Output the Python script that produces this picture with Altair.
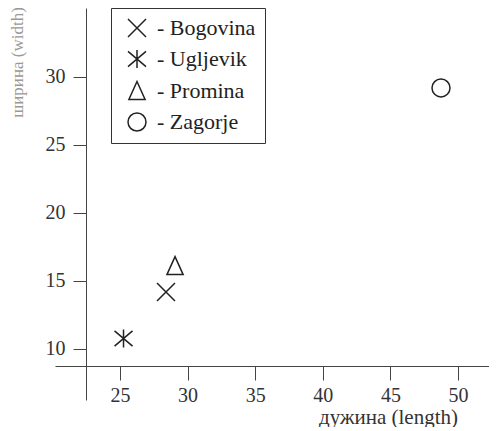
import altair as alt
import pandas as pd

# data
names = ["Bogovina", "Ugljevik", "Promina", "Zagorje"]
lengths = [28.4, 25.26, 29.07, 48.74]
widths = [14.19, 10.77, 16.1, 29.19]

x_ticks = [25, 30, 35, 40, 45, 50]
y_ticks = [10, 15, 20, 25, 30]

df = pd.DataFrame({"name": names, "length": lengths, "width": widths})

shape_x = "M-1,-1L1,1M-1,1L1,-1"
shape_ast = "M0,-1L0,1M-1,-0.85L1,0.85M-1,0.85L1,-0.85"
shape_tri = "M0,-1.05L-0.9,0.95L0.9,0.95Z"
shapes = [shape_x, shape_ast, shape_tri, "circle"]

FONT = "Liberation Serif"

chart = (
    alt.Chart(df)
    .mark_point(filled=False, color="#222", strokeWidth=1.5, size=324, opacity=1)
    .encode(
        x=alt.X(
            "length:Q",
            scale=alt.Scale(domain=[20.192, 52.29], nice=False, zero=False),
            axis=alt.Axis(
                values=x_ticks,
                offset=-34,
                grid=False,
                tickSize=14,
                labelPadding=5,
                title="дужина (length)",
                titleX=333,
                titleY=40,
                titleAlign="center",
                titleBaseline="top",
                titleFont=FONT,
                titleFontSize=21,
                titleFontWeight="normal",
                titleColor="#333",
            ),
        ),
        y=alt.Y(
            "width:Q",
            scale=alt.Scale(domain=[6.25, 35.07], nice=False, zero=False),
            axis=alt.Axis(
                values=y_ticks,
                offset=-31,
                grid=False,
                tickSize=13,
                labelPadding=8,
                title="ширина (width)",
                titleAngle=-90,
                titleX=-69,
                titleY=54,
                titleAlign="center",
                titleBaseline="middle",
                titleFont=FONT,
                titleFontSize=17,
                titleFontWeight="normal",
                titleColor="#999",
            ),
        ),
        shape=alt.Shape(
            "name:N",
            scale=alt.Scale(domain=names, range=shapes),
            legend=alt.Legend(
                title=None,
                orient="none",
                legendX=56,
                legendY=0,
                padding=9,
                strokeColor="#333",
                symbolSize=324,
                symbolStrokeWidth=1.5,
                symbolStrokeColor="#222",
                symbolFillColor="transparent",
                symbolOffset=6,
                labelExpr="'- ' + datum.label",
                labelFont=FONT,
                labelFontSize=22,
                labelColor="#222",
                labelOffset=9,
                rowPadding=7,
            ),
        ),
    )
    .properties(
        width=434,
        height=392,
        autosize=alt.AutoSizeParams(type="none"),
        padding={"left": 47, "top": 0, "right": 0, "bottom": 27},
    )
    .configure_view(stroke=None)
    .configure_axis(
        domainColor="#444",
        tickColor="#444",
        domainWidth=1,
        tickWidth=1,
        labelFont=FONT,
        labelFontSize=20,
        labelColor="#333",
    )
)

chart.save("out.html", embed_options={"renderer": "svg", "actions": False})
